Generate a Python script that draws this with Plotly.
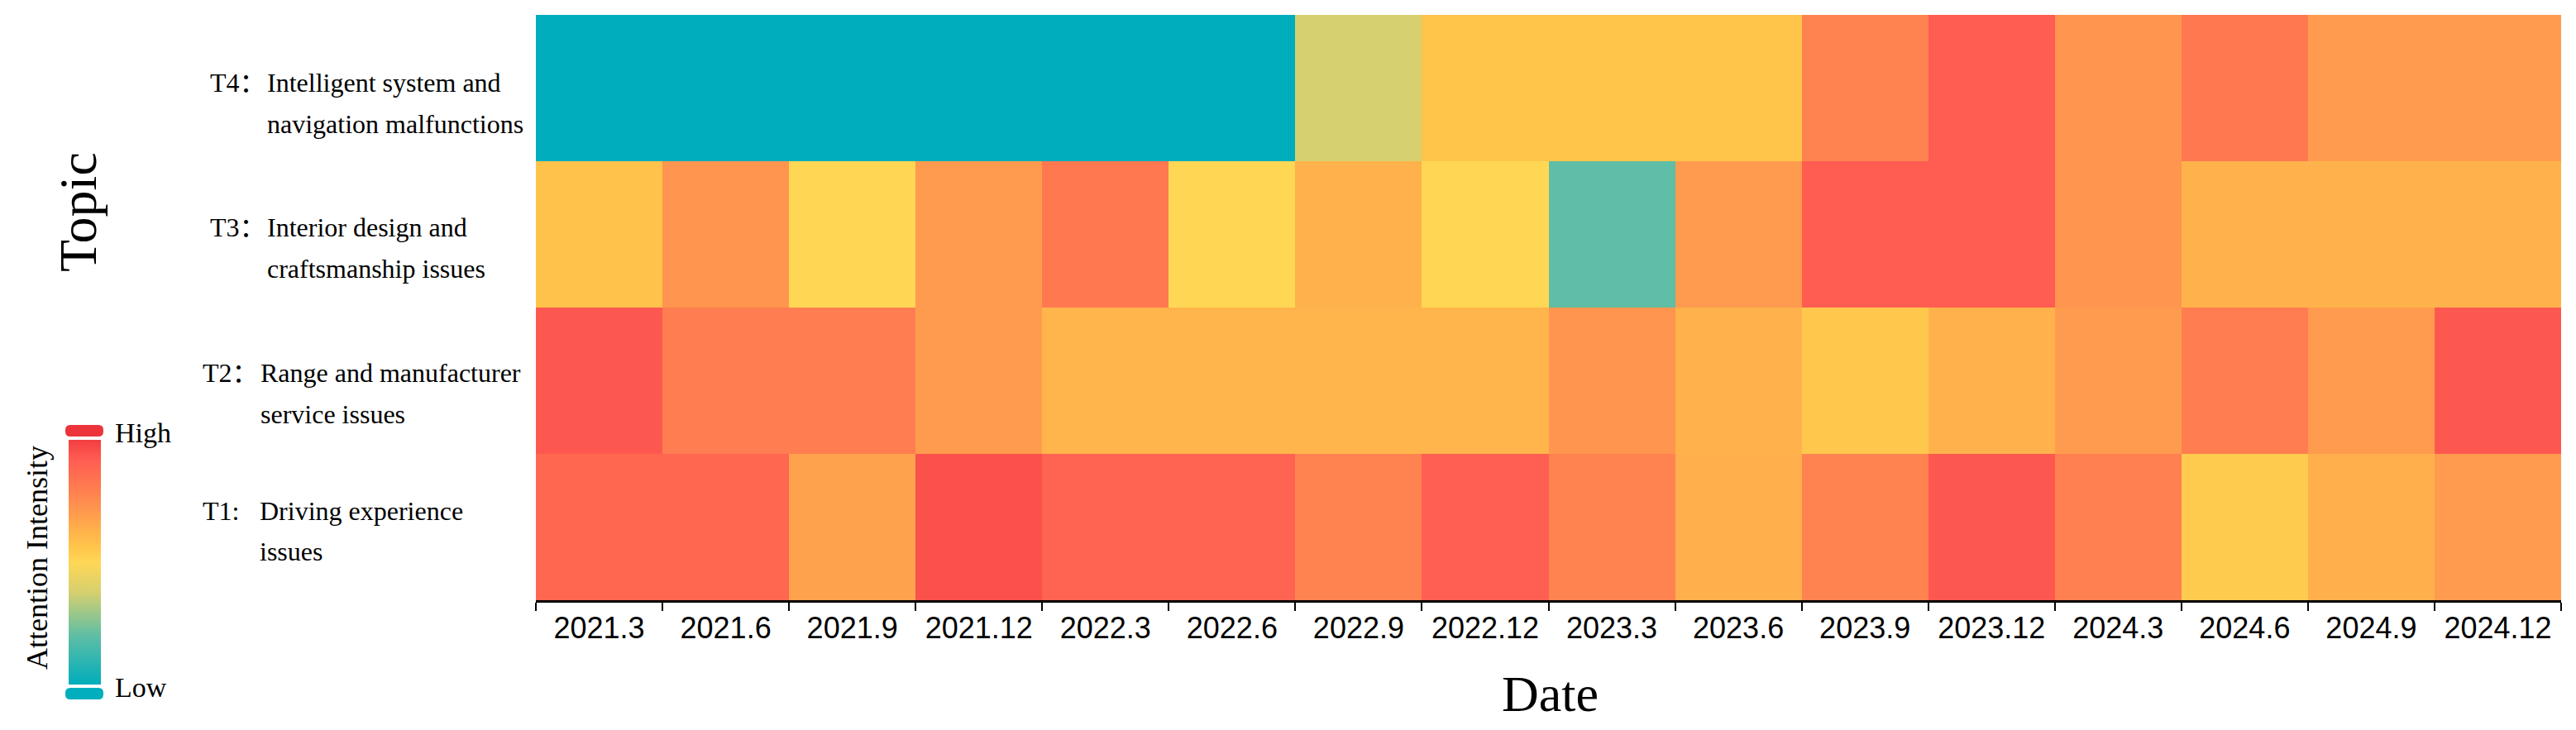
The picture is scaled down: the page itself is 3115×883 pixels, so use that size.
import plotly.graph_objects as go

# data (0 = low attention, 1 = high attention)
dates = ["2021.3", "2021.6", "2021.9", "2021.12", "2022.3", "2022.6", "2022.9", "2022.12",
         "2023.3", "2023.6", "2023.9", "2023.12", "2024.3", "2024.6", "2024.9", "2024.12"]
topics = ["T1", "T2", "T3", "T4"]
topic_prefix = ["T1:", "T2：", "T3：", "T4："]
topic_line1 = ["Driving experience", "Range and manufacturer",
               "Interior design and", "Intelligent system and"]
topic_line2 = ["issues", "service issues", "craftsmanship issues", "navigation malfunctions"]

t1_values = [0.88, 0.88, 0.68, 0.95, 0.89, 0.89, 0.78, 0.91, 0.78, 0.64, 0.78, 0.93, 0.79, 0.54, 0.64, 0.70]
t2_values = [0.93, 0.80, 0.80, 0.70, 0.62, 0.62, 0.62, 0.62, 0.72, 0.63, 0.55, 0.63, 0.70, 0.80, 0.70, 0.93]
t3_values = [0.57, 0.72, 0.50, 0.70, 0.82, 0.50, 0.63, 0.50, 0.20, 0.70, 0.92, 0.92, 0.72, 0.63, 0.63, 0.63]
t4_values = [0.00, 0.00, 0.00, 0.00, 0.00, 0.00, 0.38, 0.56, 0.56, 0.56, 0.78, 0.92, 0.72, 0.82, 0.70, 0.70]

# page has an 8px body margin, so the figure is a bit smaller than the window
OFF = 8
W, H = 3115 - 2 * OFF, 883 - 2 * OFF
serif = "Liberation Serif, Times New Roman, Noto Sans CJK SC, serif"

colorscale = [
    [0.00, "rgb(0,173,188)"],
    [0.20, "rgb(95,190,165)"],
    [0.38, "rgb(215,208,110)"],
    [0.50, "rgb(255,215,85)"],
    [0.56, "rgb(255,197,75)"],
    [0.63, "rgb(255,178,75)"],
    [0.70, "rgb(255,155,78)"],
    [0.80, "rgb(255,125,80)"],
    [0.92, "rgb(255,92,82)"],
    [1.00, "rgb(242,62,64)"],
]


def px_x(v):  # reference pixel -> paper
    return (v - OFF) / W


def px_y(v):  # pixels from the top -> paper
    return (H - (v - OFF)) / H


fig = go.Figure(go.Heatmap(
    x=dates, y=topics,
    z=[t1_values, t2_values, t3_values, t4_values],
    zmin=0, zmax=1,
    colorscale=colorscale,
    colorbar=dict(x=px_x(83), xanchor="left", y=px_y(680), yanchor="middle",
                  thickness=39, lenmode="pixels", len=296, xpad=0, ypad=0,
                  outlinewidth=0, showticklabels=False, ticks=""),
))


def pill(x0, x1, y0, y1, r=6):
    rx, ry = r / W, r / H
    a, b = px_x(x0), px_x(x1)
    top, bot = px_y(y0), px_y(y1)
    return (f"M {a+rx},{top} L {b-rx},{top} Q {b},{top} {b},{top-ry} "
            f"L {b},{bot+ry} Q {b},{bot} {b-rx},{bot} L {a+rx},{bot} "
            f"Q {a},{bot} {a},{bot+ry} L {a},{top-ry} Q {a},{top} {a+rx},{top} Z")


shapes = [
    dict(type="path", xref="paper", yref="paper", path=pill(79, 125, 514, 528),
         fillcolor="rgb(236,52,58)", line=dict(width=0)),
    dict(type="path", xref="paper", yref="paper", path=pill(79, 125, 832, 846),
         fillcolor="rgb(0,174,190)", line=dict(width=0)),
]

# label placement (pixels from top of the reference) per topic T1..T4
prefix_x = [243, 243, 252, 252]
text_x = [312, 313, 321, 321]
line1_y = [618, 451, 275, 100]
line2_y = [667, 501, 325, 150]

annotations = []
for i in range(len(topics)):
    lab = dict(showarrow=False, xanchor="left", yanchor="middle", xref="paper", yref="paper",
               font=dict(family=serif, size=32, color="black"))
    annotations.append(dict(lab, x=px_x(prefix_x[i]), y=px_y(line1_y[i]), text=topic_prefix[i]))
    annotations.append(dict(lab, x=px_x(text_x[i]), y=px_y(line1_y[i]), text=topic_line1[i]))
    annotations.append(dict(lab, x=px_x(text_x[i]), y=px_y(line2_y[i]), text=topic_line2[i]))

annotations += [
    dict(x=px_x(95), y=px_y(257), xref="paper", yref="paper", text="Topic", textangle=-90,
         xanchor="center", yanchor="middle", showarrow=False,
         font=dict(family=serif, size=64, color="black")),
    dict(x=px_x(45), y=px_y(675), xref="paper", yref="paper", text="Attention Intensity",
         textangle=-90, xanchor="center", yanchor="middle", showarrow=False,
         font=dict(family=serif, size=36, color="black")),
    dict(x=px_x(137), y=px_y(523), xref="paper", yref="paper", text="High", xanchor="left",
         yanchor="middle", showarrow=False, font=dict(family=serif, size=34, color="black")),
    dict(x=px_x(137), y=px_y(831), xref="paper", yref="paper", text="Low", xanchor="left",
         yanchor="middle", showarrow=False, font=dict(family=serif, size=34, color="black")),
    dict(x=px_x(1874), y=px_y(839), xref="paper", yref="paper", text="Date",
         xanchor="center", yanchor="middle", showarrow=False,
         font=dict(family=serif, size=62, color="black")),
]

fig.update_layout(
    width=W, height=H,
    margin=dict(l=0, r=0, t=0, b=0),
    paper_bgcolor="white", plot_bgcolor="white",
    shapes=shapes, annotations=annotations,
    xaxis=dict(domain=[px_x(648), px_x(3097)], type="category", tickson="boundaries",
               ticks="outside", ticklen=10, tickwidth=1.5, tickcolor="black",
               showline=True, linecolor="black", linewidth=3, showgrid=False,
               tickfont=dict(family="Liberation Sans, Arial, sans-serif", size=36, color="black")),
    yaxis=dict(domain=[px_y(726), px_y(18)], type="category", showticklabels=False,
               ticks="", showline=False, showgrid=False),
)

fig.write_html("out.html")
